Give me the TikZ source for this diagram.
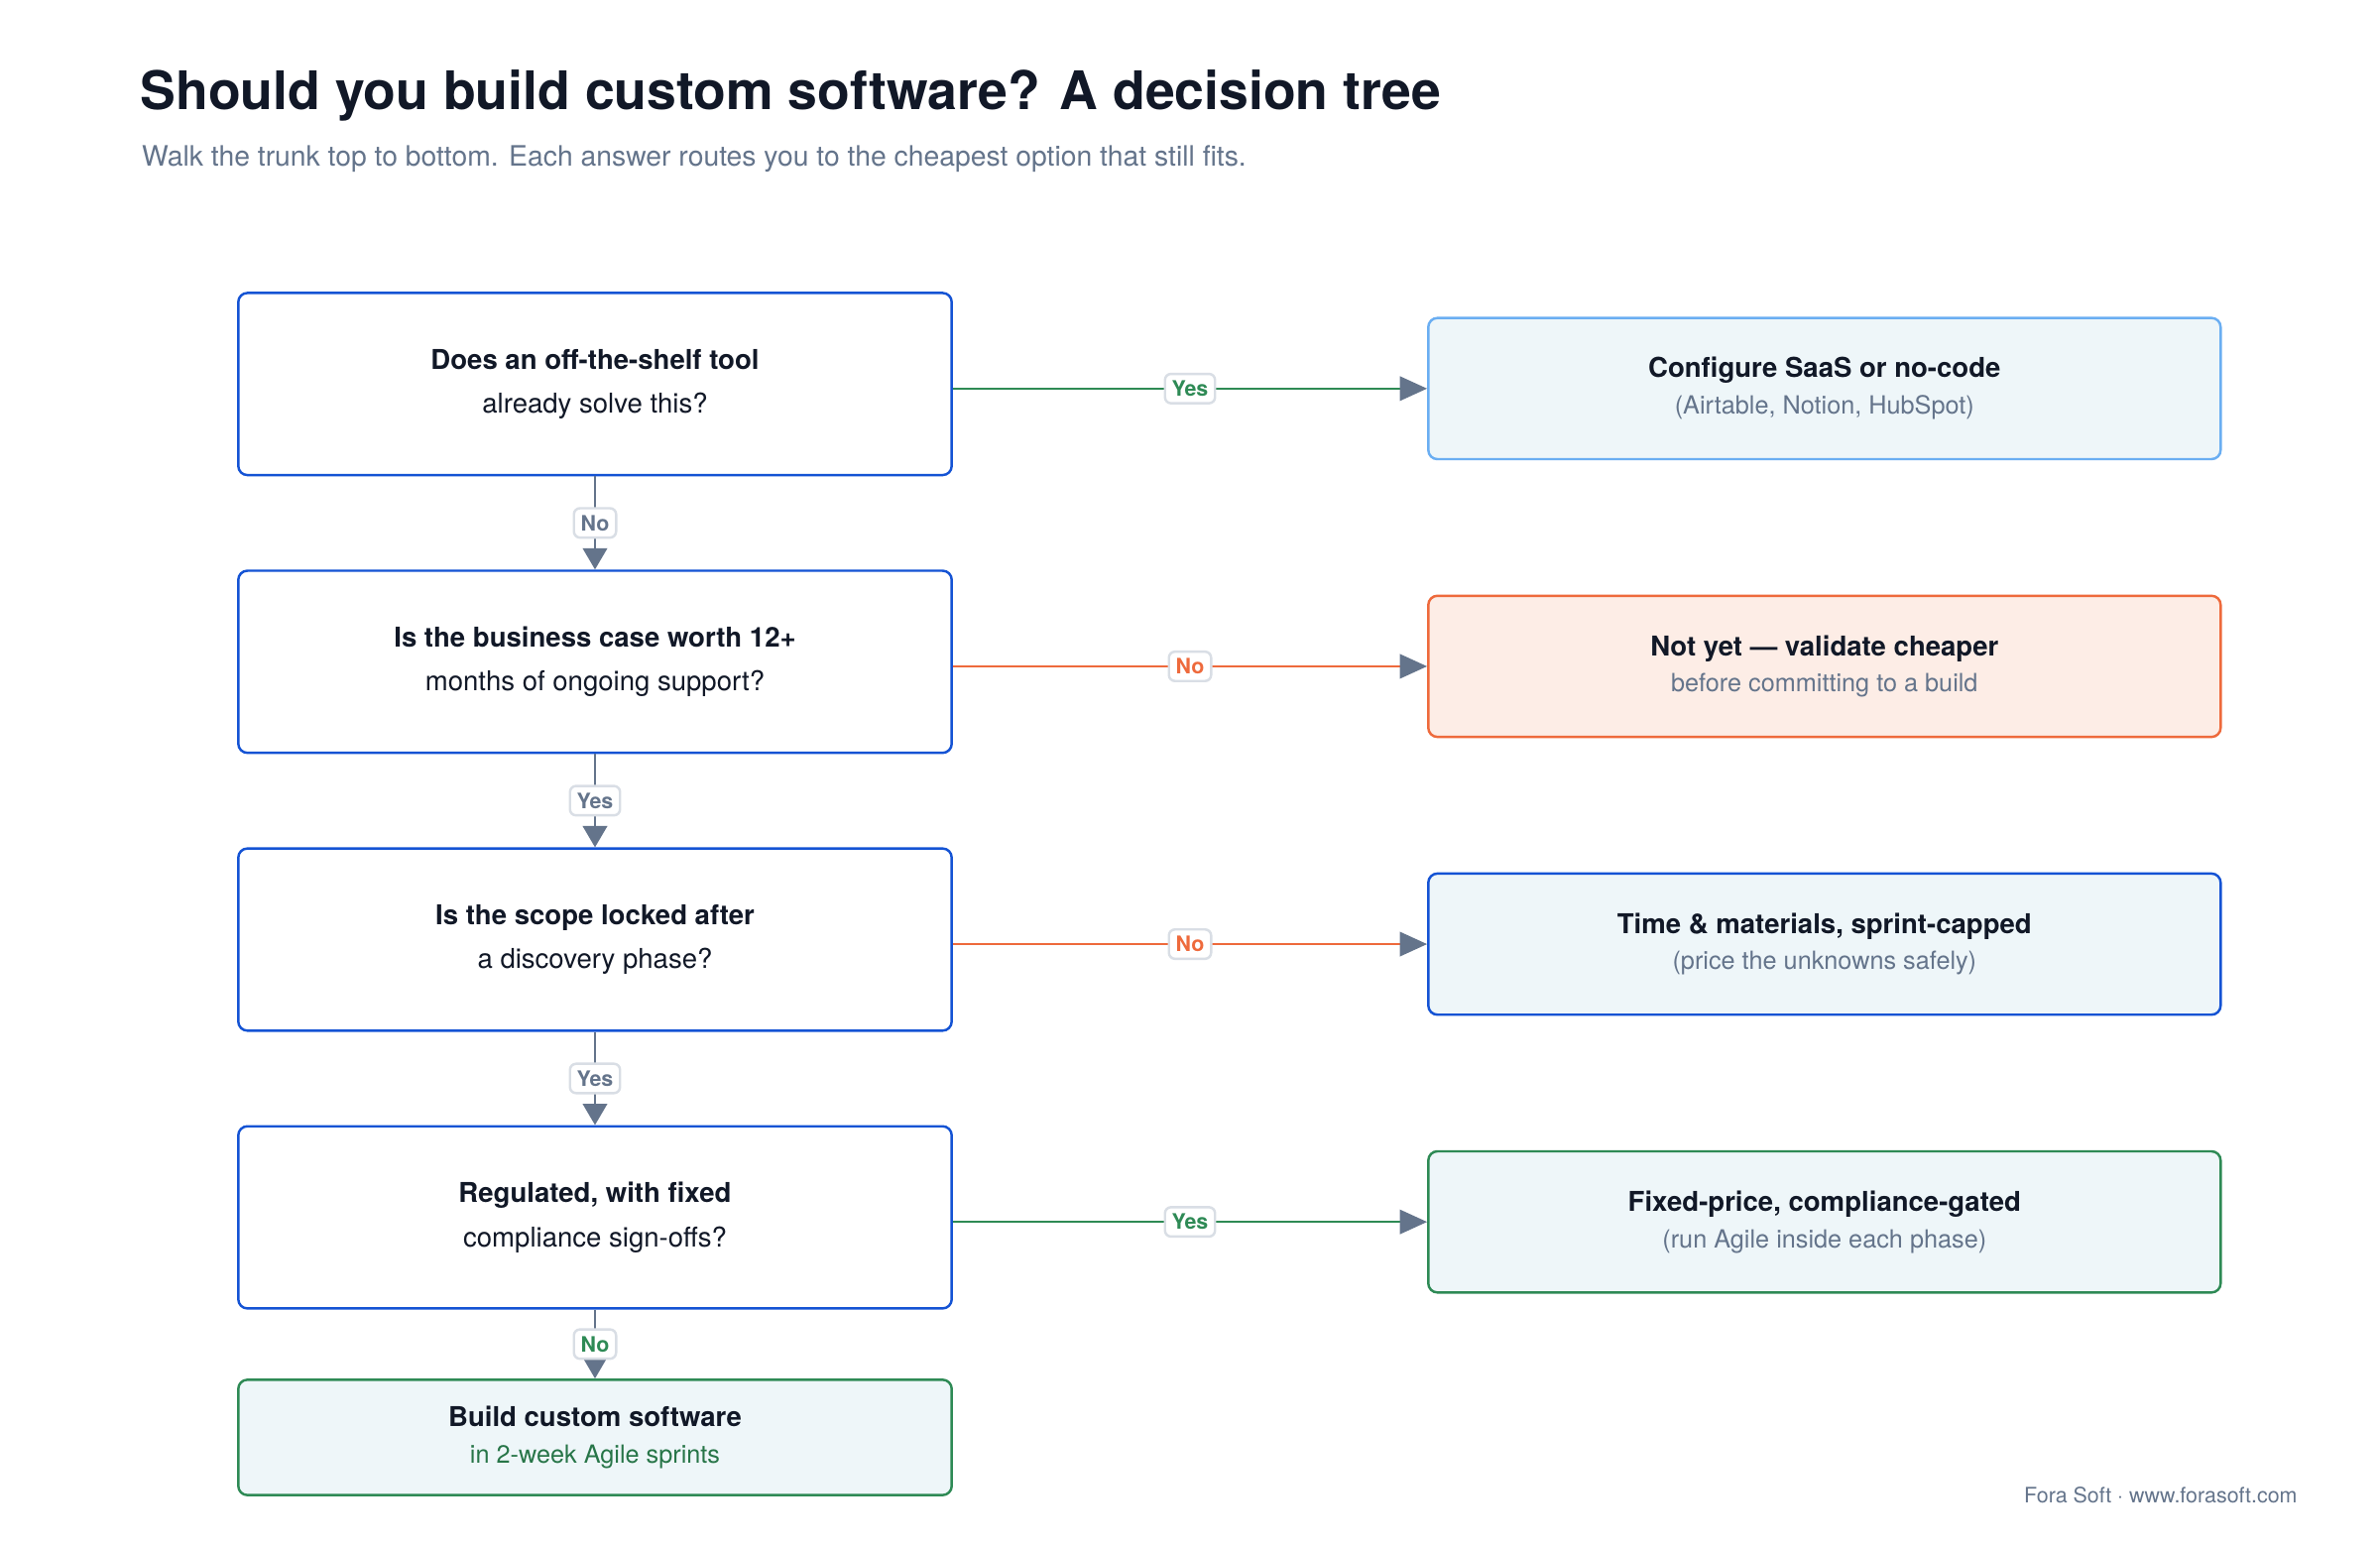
\documentclass[tikz,border=0pt]{standalone}
\usepackage{fontspec}
\setmainfont{TeX Gyre Heros}
\usetikzlibrary{arrows.meta}
\definecolor{navy}{HTML}{111827}
\definecolor{slate}{HTML}{64748B}
\definecolor{blu}{HTML}{1453D4}
\definecolor{lblu}{HTML}{6AAEF2}
\definecolor{fillb}{HTML}{EEF6F9}
\definecolor{org}{HTML}{EE6A3C}
\definecolor{fillo}{HTML}{FDEDE6}
\definecolor{grn}{HTML}{2E8A55}
\definecolor{lgray}{HTML}{D9DEE5}
\begin{document}
\begin{tikzpicture}[x=1bp,y=-1bp,
 q/.style={draw=blu,line width=1.6bp,rounded corners=6bp,fill=white,minimum width=470bp,minimum height=120bp,align=center,text=navy,font=\fontsize{18bp}{29bp}\selectfont},
 r/.style={line width=1.6bp,rounded corners=6bp,minimum width=522bp,minimum height=93bp,align=center,text=navy,font=\fontsize{18bp}{26bp}\selectfont},
 lab/.style={draw=lgray,fill=white,rounded corners=4bp,inner sep=4.5bp,font=\fontsize{14bp}{16bp}\selectfont\bfseries},
 arr/.style={-{Triangle[length=14bp,width=14bp]},line width=1.6bp}]
\useasboundingbox[fill=white] (0,0) rectangle (1568,1019);
\node[anchor=west,text=navy,font=\fontsize{35bp}{40bp}\selectfont\bfseries] (title) at (89,63) {Should you build custom software? A decision tree};
\node[anchor=west,text=slate,font=\fontsize{18.5bp}{22bp}\selectfont] (subt) at (90,105) {Walk the trunk top to bottom. Each answer routes you to the cheapest option that still fits.};
\node[q] (q1) at (392,253) {\textbf{Does an off-the-shelf tool}\\already solve this?};
\node[q] (q2) at (392,436) {\textbf{Is the business case worth 12+}\\months of ongoing support?};
\node[q] (q3) at (392,619) {\textbf{Is the scope locked after}\\a discovery phase?};
\node[q] (q4) at (392,802) {\textbf{Regulated, with fixed}\\compliance sign-offs?};
\node[r,draw=grn,fill=fillb,minimum width=470bp,minimum height=76bp] (q5) at (392,947) {\textbf{Build custom software}\\[-2pt]{\color{grn!85!black}\fontsize{16.5bp}{20bp}\selectfont in 2-week Agile sprints}};
\node[r,draw=lblu,fill=fillb] (r1) at (1202,256) {\textbf{Configure SaaS or no-code}\\[-2pt]{\color{slate}\fontsize{16.5bp}{20bp}\selectfont (Airtable, Notion, HubSpot)}};
\node[r,draw=org,fill=fillo] (r2) at (1202,439) {\textbf{Not yet — validate cheaper}\\[-2pt]{\color{slate}\fontsize{16.5bp}{20bp}\selectfont before committing to a build}};
\node[r,draw=blu,fill=fillb] (r3) at (1202,622) {\textbf{Time \& materials, sprint-capped}\\[-2pt]{\color{slate}\fontsize{16.5bp}{20bp}\selectfont (price the unknowns safely)}};
\node[r,draw=grn,fill=fillb] (r4) at (1202,805) {\textbf{Fixed-price, compliance-gated}\\[-2pt]{\color{slate}\fontsize{16.5bp}{20bp}\selectfont (run Agile inside each phase)}};
\coordinate (a1) at (q1.east |- r1.west);
\coordinate (a2) at (q2.east |- r2.west);
\coordinate (a3) at (q3.east |- r3.west);
\coordinate (a4) at (q4.east |- r4.west);
\draw[arr,draw=grn,-{Triangle[length=18bp,width=16bp,fill=slate,color=slate]}] (a1) -- node[lab,text=grn]{Yes} (r1.west);
\draw[arr,draw=org,-{Triangle[length=18bp,width=16bp,fill=slate,color=slate]}] (a2) -- node[lab,text=org]{No} (r2.west);
\draw[arr,draw=org,-{Triangle[length=18bp,width=16bp,fill=slate,color=slate]}] (a3) -- node[lab,text=org]{No} (r3.west);
\draw[arr,draw=grn,-{Triangle[length=18bp,width=16bp,fill=slate,color=slate]}] (a4) -- node[lab,text=grn]{Yes} (r4.west);
\draw[arr,draw=slate,-{Triangle[length=14bp,width=16bp]}] (q1) -- node[lab,text=slate,pos=0.5]{No} (q2);
\draw[arr,draw=slate,-{Triangle[length=14bp,width=16bp]}] (q2) -- node[lab,text=slate]{Yes} (q3);
\draw[arr,draw=slate,-{Triangle[length=14bp,width=16bp]}] (q3) -- node[lab,text=slate]{Yes} (q4);
\draw[arr,draw=slate,-{Triangle[length=14bp,width=16bp]}] (q4) -- node[lab,text=grn,pos=0.5]{No} (q5);
\node[anchor=east,text=slate,font=\fontsize{14bp}{16bp}\selectfont] (foot) at (1517,985) {Fora Soft · www.forasoft.com};
\end{tikzpicture}
\end{document}
